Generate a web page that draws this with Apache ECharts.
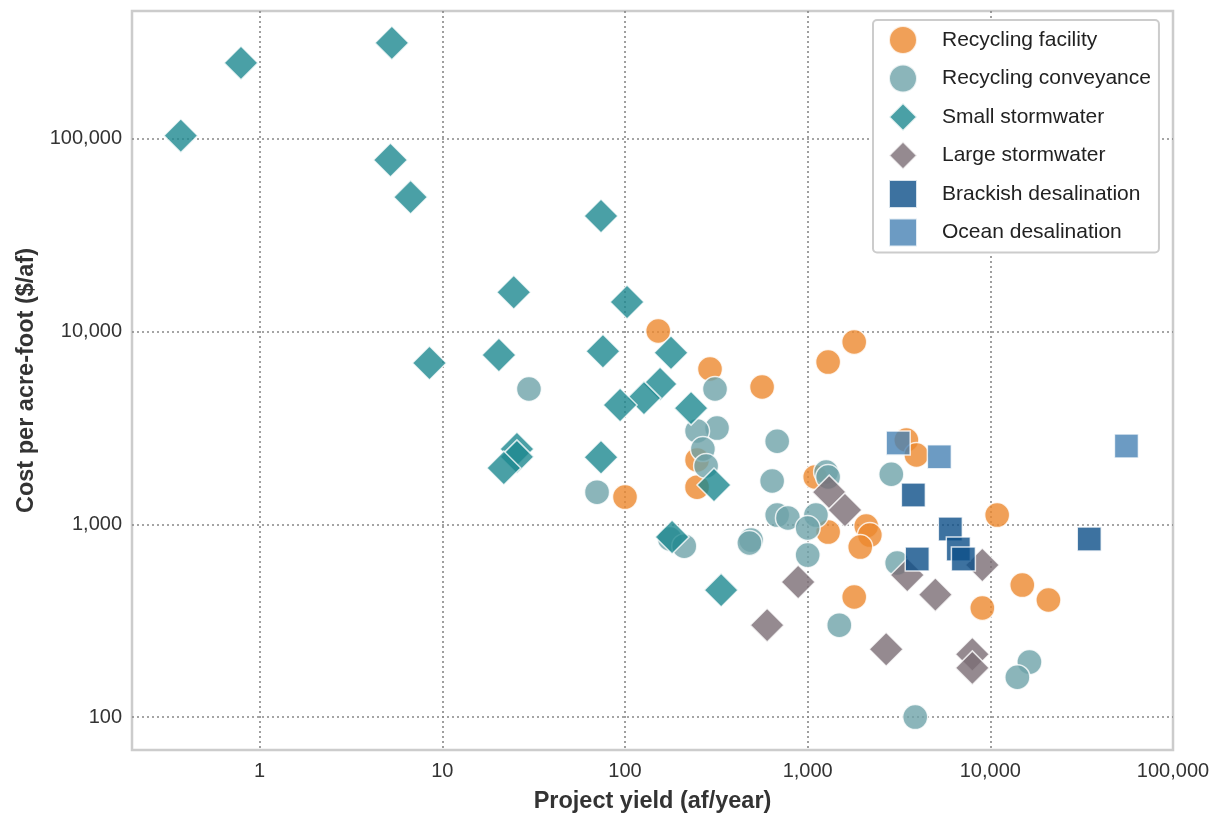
<!DOCTYPE html>
<html>
<head>
<meta charset="utf-8">
<script src="https://cdn.jsdelivr.net/npm/echarts@6/dist/echarts.min.js"></script>
<style>
html,body{margin:0;padding:0;background:#fff;}
#chart{width:1215px;height:814px;}
</style>
</head>
<body>
<div id="chart"></div>
<script>
// ---- Data ----
const seriesNames = ["Recycling facility", "Recycling conveyance", "Small stormwater", "Large stormwater", "Brackish desalination", "Ocean desalination"];

const recyclingFacilityX = [152, 292, 563, 1294, 1798, 100, 248, 248, 3470, 3940, 1100, 1294, 2093, 2190, 1940, 10900, 1798, 9040, 14960, 20800];
const recyclingFacilityY = [10070, 6400, 5160, 6950, 8830, 1385, 2160, 1560, 2740, 2290, 1760, 912, 980, 880, 762, 1117, 420, 368, 484, 405];

const recyclingConveyanceX = [29.8, 70.3, 311, 319, 248, 267, 278, 681, 639, 176, 211, 490, 480, 681, 780, 1110, 1000, 1000, 1262, 1294, 2870, 3090, 1490, 3880, 16370, 14060];
const recyclingConveyanceY = [5040, 1470, 5040, 3160, 3050, 2460, 2010, 2700, 1680, 840, 771, 829, 800, 1117, 1080, 1117, 957, 693, 1870, 1760, 1820, 630, 300, 100, 193, 161];

const smallStormwaterX = [0.37, 0.79, 5.29, 5.2, 6.7, 73.9, 24.6, 102.6, 8.5, 20.4, 75.7, 178.6, 155.6, 127, 94, 230, 307, 25.6, 25.6, 21.7, 73.9, 181, 336];
const smallStormwaterY = [104000, 248000, 315000, 77700, 49900, 39800, 16000, 14250, 6870, 7560, 7920, 7770, 5350, 4520, 4160, 4010, 1600, 2460, 2240, 1960, 2230, 860, 456];

const largeStormwaterX = [1312, 1600, 887, 600, 3510, 5000, 9040, 2690, 7970, 7970];
const largeStormwaterY = [1470, 1186, 502, 300, 546, 432, 615, 225, 212, 180];

const brackishDesalX = [3790, 6040, 6680, 7120, 3980, 34800];
const brackishDesalY = [1420, 946, 745, 661, 661, 839];

const oceanDesalX = [3130, 5260, 55600];
const oceanDesalY = [2640, 2240, 2550];

const xTickValues = [1, 10, 100, 1000, 10000, 100000];
const yTickValues = [100, 1000, 10000, 100000];

// ---- Styles ----
const colors = ["#EC882E", "#6EA3A9", "#1D8890", "#7B6D74", "#0C4F88", "#4782B4"];
const symbols = ["circle", "circle", "diamond", "diamond", "rect", "rect"];
const sizes = [25, 25, 34, 34, 24, 24];
const xs = [recyclingFacilityX, recyclingConveyanceX, smallStormwaterX, largeStormwaterX, brackishDesalX, oceanDesalX];
const ys = [recyclingFacilityY, recyclingConveyanceY, smallStormwaterY, largeStormwaterY, brackishDesalY, oceanDesalY];

function isTick(v, list) {
  return list.some(t => Math.abs(Math.log10(v) - Math.log10(t)) < 1e-6);
}
function fmt(v) {
  return Math.round(v).toLocaleString('en-US');
}

const FONT = "Liberation Sans, Arial, Helvetica, sans-serif";

const series = seriesNames.map((name, i) => ({
  name: name,
  type: 'scatter',
  symbol: symbols[i],
  symbolSize: sizes[i],
  data: xs[i].map((x, j) => [x, ys[i][j]]),
  itemStyle: { color: colors[i], opacity: 0.8, borderColor: '#ffffff', borderWidth: 1.5 },
  emphasis: { disabled: true },
  z: 2 + i
}));

const chart = echarts.init(document.getElementById('chart'), null, { renderer: 'canvas' });
chart.setOption({
  animation: false,
  backgroundColor: '#ffffff',
  textStyle: { fontFamily: FONT },
  grid: { left: 132, right: 42, top: 11, bottom: 64, outerBoundsMode: 'none', containLabel: false, show: true, borderColor: '#cccccc', borderWidth: 2.5, backgroundColor: 'transparent' },
  legend: {
    orient: 'vertical',
    left: 873,
    top: 20,
    data: seriesNames.map((n, i) => ({ name: n, icon: symbols[i] })),
    itemWidth: 28,
    itemHeight: 28,
    itemGap: 8.5,
    padding: [5, 8, 5, 15],
    borderColor: '#cccccc',
    borderWidth: 2,
    borderRadius: 4,
    backgroundColor: '#ffffff',
    textStyle: { fontFamily: FONT, fontSize: 21, color: '#222222', padding: [0, 0, 0, 20] },
    selectedMode: false
  },
  xAxis: {
    type: 'log',
    logBase: 10,
    min: 0.2,
    max: 100000,
    name: 'Project yield (af/year)',
    nameLocation: 'middle',
    nameGap: 40,
    nameTextStyle: { fontFamily: FONT, fontSize: 23.5, fontWeight: 'bold', color: '#333333' },
    axisLine: { show: false },
    axisTick: { show: false },
    axisLabel: {
      fontFamily: FONT, fontSize: 20, color: '#333333', margin: 11,
      formatter: v => isTick(v, xTickValues) ? fmt(v) : ''
    },
    splitLine: { show: true, showMinLine: false, showMaxLine: false, lineStyle: { color: '#888888', width: 1.6, type: [2, 3] } }
  },
  yAxis: {
    type: 'log',
    logBase: 10,
    min: 67.5,
    max: 461000,
    name: 'Cost per acre-foot ($/af)',
    nameLocation: 'middle',
    nameGap: 93,
    nameTextStyle: { fontFamily: FONT, fontSize: 23.5, fontWeight: 'bold', color: '#333333' },
    axisLine: { show: false },
    axisTick: { show: false },
    axisLabel: {
      fontFamily: FONT, fontSize: 20, color: '#333333', margin: 10,
      formatter: v => isTick(v, yTickValues) ? fmt(v) : ''
    },
    splitLine: { show: true, showMinLine: false, showMaxLine: false, lineStyle: { color: '#888888', width: 1.6, type: [2, 3] } }
  },
  series: series
});
</script>
</body>
</html>
